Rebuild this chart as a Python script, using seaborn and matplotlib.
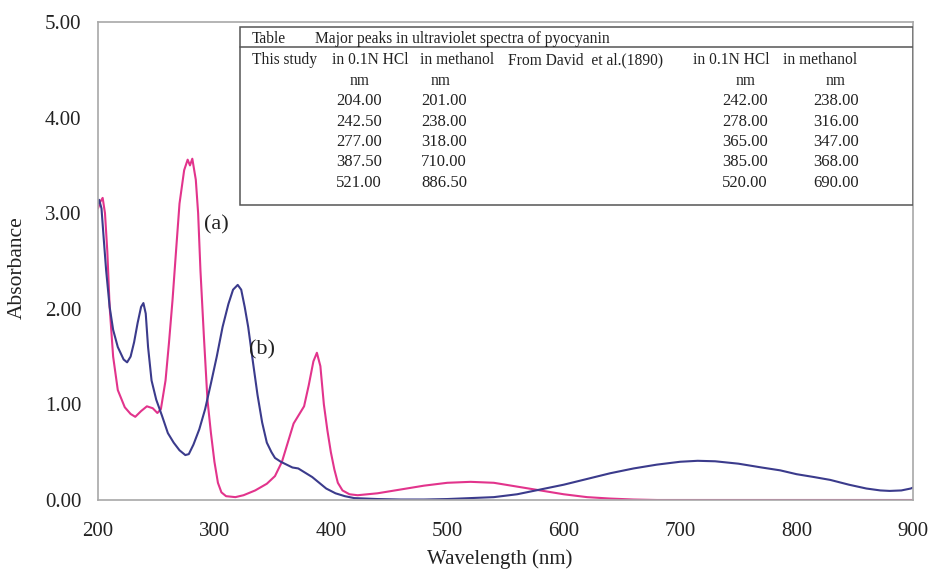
import matplotlib
matplotlib.use("Agg")
import matplotlib.pyplot as plt
from matplotlib.patches import Rectangle
import seaborn as sns
import pandas as pd

# ---------------- data ----------------
wl_hcl = [200, 202, 204, 206, 208, 210, 213, 217, 223, 228, 232, 237, 242, 247, 251, 254,
          258, 261, 264, 267, 270, 274, 277, 279, 281, 284, 286, 288, 291, 294, 297, 300,
          303, 306, 310, 318, 325, 335, 345, 352, 358, 363, 368, 373, 377, 381, 385, 388,
          391, 394, 397, 400, 403, 406, 410, 416, 423, 440, 460, 480, 500, 520, 540, 560,
          580, 600, 620, 640, 660, 680, 700, 750, 800, 850, 900]
abs_hcl = [3.05, 3.12, 3.16, 3.00, 2.60, 2.02, 1.50, 1.15, 0.97, 0.90, 0.87, 0.93, 0.98, 0.96, 0.91, 0.95,
           1.25, 1.65, 2.09, 2.60, 3.10, 3.45, 3.56, 3.50, 3.57, 3.35, 3.00, 2.40, 1.70, 1.05, 0.70, 0.40,
           0.18, 0.08, 0.04, 0.03, 0.05, 0.10, 0.17, 0.25, 0.40, 0.60, 0.80, 0.90, 0.98, 1.20, 1.45, 1.54,
           1.40, 1.00, 0.73, 0.50, 0.32, 0.18, 0.10, 0.06, 0.05, 0.07, 0.11, 0.15, 0.18, 0.19, 0.18, 0.14,
           0.10, 0.06, 0.03, 0.015, 0.005, 0.0, 0.0, 0.0, 0.0, 0.0, 0.0]

wl_meoh = [200, 201, 203, 205, 207, 210, 213, 217, 222, 225, 228, 231, 234, 237, 239, 241,
           243, 246, 250, 255, 260, 265, 270, 275, 278, 282, 287, 292, 297, 302, 307, 312,
           316, 320, 323, 326, 329, 333, 337, 341, 345, 349, 352, 357, 362, 367, 372, 376,
           380, 384, 390, 396, 404, 412, 420, 440, 460, 480, 500, 520, 540, 560, 580, 600,
           620, 640, 660, 680, 700, 715, 730, 750, 770, 786, 800, 815, 829, 845, 860, 872,
           880, 890, 898, 900]
abs_meoh = [3.10, 3.14, 3.05, 2.72, 2.40, 2.02, 1.78, 1.60, 1.47, 1.44, 1.50, 1.65, 1.85, 2.02, 2.06, 1.95,
            1.60, 1.25, 1.05, 0.88, 0.70, 0.60, 0.52, 0.47, 0.48, 0.58, 0.74, 0.95, 1.22, 1.50, 1.81, 2.05,
            2.20, 2.25, 2.20, 2.02, 1.81, 1.45, 1.10, 0.81, 0.60, 0.50, 0.44, 0.40, 0.37, 0.34, 0.33, 0.30,
            0.27, 0.24, 0.18, 0.12, 0.07, 0.04, 0.02, 0.01, 0.005, 0.005, 0.01, 0.02, 0.03, 0.06, 0.11, 0.16,
            0.22, 0.28, 0.33, 0.37, 0.40, 0.41, 0.405, 0.38, 0.34, 0.31, 0.27, 0.24, 0.21, 0.16, 0.12, 0.10,
            0.095, 0.10, 0.12, 0.13]

x_ticks = [200, 300, 400, 500, 600, 700, 800, 900]
y_ticks = [0, 1, 2, 3, 4, 5]

this_hcl = ["204.00", "242.50", "277.00", "387.50", "521.00"]
this_meoh = ["201.00", "238.00", "318.00", "710.00", "886.50"]
david_hcl = ["242.00", "278.00", "365.00", "385.00", "520.00"]
david_meoh = ["238.00", "316.00", "347.00", "368.00", "690.00"]

# ---------------- style ----------------
sns.set_style("white")
plt.rcParams['font.family'] = ['Liberation Serif', 'DejaVu Serif']

W, H = 930, 570
fig = plt.figure(figsize=(W / 100, H / 100), dpi=100)
L, R, T, B = 98, 913, 22, 500
ax = fig.add_axes([L / W, 1 - B / H, (R - L) / W, (B - T) / H])

df_a = pd.DataFrame({"wl": wl_hcl, "A": abs_hcl})
df_b = pd.DataFrame({"wl": wl_meoh, "A": abs_meoh})
sns.lineplot(data=df_a, x="wl", y="A", ax=ax, color="#e2348c", lw=1.5, sort=False)
sns.lineplot(data=df_b, x="wl", y="A", ax=ax, color="#3b3b8c", lw=1.5, sort=False)

ax.set_xlim(200, 900)
ax.set_ylim(0, 5)
ax.set_xticks(x_ticks)
ax.set_yticks(y_ticks)
ax.set_yticklabels([f"{v:.2f}" for v in y_ticks])
ax.tick_params(axis="both", length=0, labelsize=15, colors="#222222")
ax.tick_params(axis="x", pad=16)
ax.tick_params(axis="y", pad=12)
for s in ax.spines.values():
    s.set_color("#a8a8a8")
    s.set_linewidth(1.2)

ax.set_xlabel("Wavelength (nm)", fontsize=15, color="#222222")
ax.set_ylabel("Absorbance", fontsize=15.5, color="#222222")
ax.xaxis.set_label_coords((500 - L) / (R - L), (B - 549) / (B - T))
ax.yaxis.set_label_coords((27 - L) / (R - L), (B - 268) / (B - T))

ax.text(302, 2.88, "(a)", fontsize=16, ha="center", va="center", color="#222222")
ax.text(341, 1.57, "(b)", fontsize=16, ha="center", va="center", color="#222222")

# ---------------- table ----------------
def ax_xy(px, py):
    return (px - L) / (R - L), (B - py) / (B - T)

tx0, ty0 = ax_xy(240, 205)
tx1, ty1 = ax_xy(913, 27)
ax.add_patch(Rectangle((tx0, ty0), tx1 - tx0, ty1 - ty0, transform=ax.transAxes,
                       fill=True, facecolor="white", edgecolor="#555555", lw=1.1, zorder=5))
sx0, sy = ax_xy(240, 47)
ax.plot([sx0, 1.0], [sy, sy], transform=ax.transAxes, color="#555555", lw=1.1, zorder=6)

fs_txt = 11.2
fs_num = 12


def txt(px, py, s, ha="left", fs=fs_txt):
    x, y = ax_xy(px, py)
    ax.text(x, y, s, transform=ax.transAxes, fontsize=fs, ha=ha, va="center",
            color="#222222", zorder=7)


txt(252, 39, "Table")
txt(315, 39, "Major peaks in ultraviolet spectra of pyocyanin")
txt(252, 60, "This study")
txt(332, 60, "in 0.1N HCl")
txt(420, 60, "in methanol")
txt(508, 60, "From David  et al.(1890)")
txt(693, 60, "in 0.1N HCl")
txt(783, 60, "in methanol")
txt(360, 81, "nm", ha="center")
txt(441, 81, "nm", ha="center")
txt(746, 81, "nm", ha="center")
txt(836, 81, "nm", ha="center")
rows_y = [101, 122, 142, 162, 183]
for i, y in enumerate(rows_y):
    txt(382, y, this_hcl[i], ha="right", fs=fs_num)
    txt(467, y, this_meoh[i], ha="right", fs=fs_num)
    txt(768, y, david_hcl[i], ha="right", fs=fs_num)
    txt(859, y, david_meoh[i], ha="right", fs=fs_num)

fig.savefig("out.png", dpi=100)
